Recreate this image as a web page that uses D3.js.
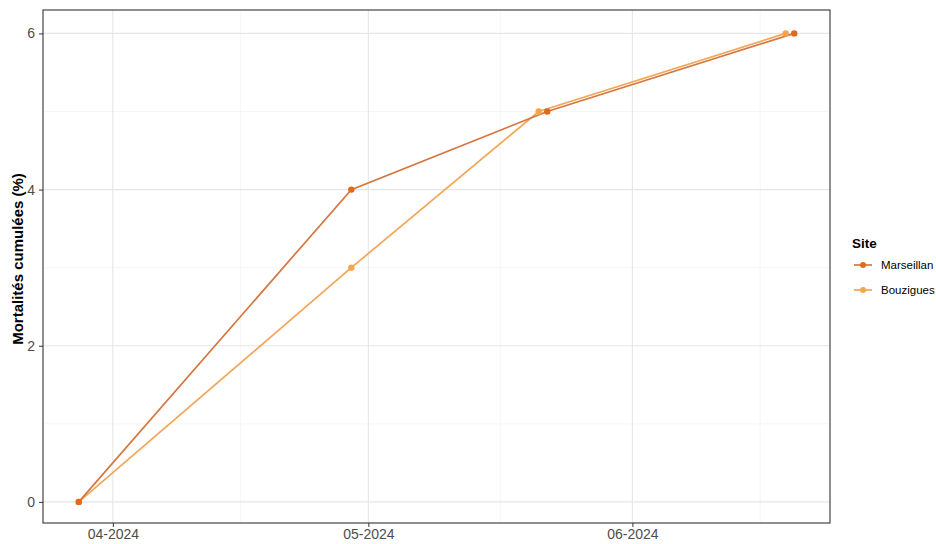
<!DOCTYPE html>
<html><head><meta charset="utf-8">
<script src="https://cdn.jsdelivr.net/npm/d3@7"></script>
<style>body{margin:0;background:#fff;font-family:Arial,"Liberation Sans",sans-serif}</style>
</head><body><svg id="c" width="936" height="544"></svg>
<script>
const sites = ["Marseillan", "Bouzigues"];
const colors = ["#E2681E", "#F5A54C"];
const lineColors = ["#D5773F", "#F2A657"];
const datesMarseillan = ["2024-03-28", "2024-04-29", "2024-05-22", "2024-06-20"];
const valuesMarseillan = [0, 4, 5, 6];
const datesBouzigues = ["2024-03-28", "2024-04-29", "2024-05-21", "2024-06-19"];
const valuesBouzigues = [0, 3, 5, 6];
const yTicks = [0, 2, 4, 6];
const xTicks = ["2024-04-01", "2024-05-01", "2024-06-01"];
const xTickLabels = ["04-2024", "05-2024", "06-2024"];
const yTitle = "Mortalités cumulées (%)";
const legendTitle = "Site";

const parse = d3.timeParse("%Y-%m-%d");
const series = [
  {name: sites[0], color: colors[0], lc: lineColors[0], pts: datesMarseillan.map((d,i)=>({x:parse(d), y:valuesMarseillan[i]}))},
  {name: sites[1], color: colors[1], lc: lineColors[1], pts: datesBouzigues.map((d,i)=>({x:parse(d), y:valuesBouzigues[i]}))}
];
const L=43, R=830, T=10, B=523;
const svg = d3.select("#c");
const allX = series.flatMap(s=>s.pts.map(p=>p.x));
const [x0,x1] = d3.extent(allX);
const pad = (x1-x0)*0.05;
const x = d3.scaleTime().domain([new Date(+x0-pad), new Date(+x1+pad)]).range([L,R]);
const y = d3.scaleLinear().domain([-0.27, 6.3]).range([B,T]);

const g = svg.append("g");
const xt = xTicks.map(parse);
const xMinor = [];
for (let i=0;i<xt.length;i++){
  const next = i<xt.length-1 ? xt[i+1] : d3.timeMonth.offset(xt[i],1);
  xMinor.push(new Date((+xt[i]+ +next)/2));
}
const yMinor = [1,3,5];
g.selectAll(".xm").data(xMinor.filter(d=>x(d)<R)).enter().append("line")
 .attr("x1",d=>x(d)).attr("x2",d=>x(d)).attr("y1",T).attr("y2",B).attr("stroke","#f0f0f0").attr("stroke-width",0.6);
g.selectAll(".ym").data(yMinor).enter().append("line")
 .attr("x1",L).attr("x2",R).attr("y1",d=>y(d)).attr("y2",d=>y(d)).attr("stroke","#f0f0f0").attr("stroke-width",0.6);
g.selectAll(".xM").data(xt).enter().append("line")
 .attr("x1",d=>x(d)).attr("x2",d=>x(d)).attr("y1",T).attr("y2",B).attr("stroke","#e6e6e6").attr("stroke-width",1.1);
g.selectAll(".yM").data(yTicks).enter().append("line")
 .attr("x1",L).attr("x2",R).attr("y1",d=>y(d)).attr("y2",d=>y(d)).attr("stroke","#e6e6e6").attr("stroke-width",1.1);

const xAxis = d3.axisBottom(x).tickValues(xt).tickFormat((d,i)=>xTickLabels[i]).tickSize(4).tickPadding(2);
const ga = svg.append("g").attr("transform",`translate(0,${B})`).call(xAxis);
ga.select(".domain").remove();
ga.selectAll("line").attr("stroke","#333");
ga.selectAll("text").attr("fill","#4d4d4d").style("font-size","14px").style("font-family","Arial,'Liberation Sans',sans-serif");
const yAxis = d3.axisLeft(y).tickValues(yTicks).tickFormat(d3.format("d")).tickSize(4).tickPadding(4);
const gy = svg.append("g").attr("transform",`translate(${L},0)`).call(yAxis);
gy.select(".domain").remove();
gy.selectAll("line").attr("stroke","#333");
gy.selectAll("text").attr("fill","#4d4d4d").style("font-size","14px").style("font-family","Arial,'Liberation Sans',sans-serif");

const line = d3.line().x(d=>x(d.x)).y(d=>y(d.y));
series.slice().reverse().forEach(s=>{
  svg.append("path").datum(s.pts).attr("d",line).attr("fill","none").attr("stroke",s.lc).attr("stroke-width",1.7);
});
series.slice().reverse().forEach(s=>{
  svg.selectAll(null).data(s.pts).enter().append("circle").attr("cx",d=>x(d.x)).attr("cy",d=>y(d.y)).attr("r",3.2).attr("fill",s.color);
});

svg.append("rect").attr("x",L).attr("y",T).attr("width",R-L).attr("height",B-T).attr("fill","none").attr("stroke","#333").attr("stroke-width",1.1);

svg.append("text").attr("transform",`translate(23,259) rotate(-90)`).attr("text-anchor","middle")
 .style("font-size","15px").style("font-weight","bold").attr("fill","#000").text(yTitle);

const lg = svg.append("g");
lg.append("text").attr("x",852).attr("y",248).style("font-size","13.5px").style("font-weight","bold").text(legendTitle);
series.forEach((s,i)=>{
  const yy = 265 + i*25;
  lg.append("line").attr("x1",854).attr("x2",872).attr("y1",yy).attr("y2",yy).attr("stroke",s.lc).attr("stroke-width",1.7);
  lg.append("circle").attr("cx",863).attr("cy",yy).attr("r",3).attr("fill",s.color);
  lg.append("text").attr("x",881).attr("y",yy+4).style("font-size","11.5px").attr("fill","#000").text(s.name);
});
</script></body></html>
